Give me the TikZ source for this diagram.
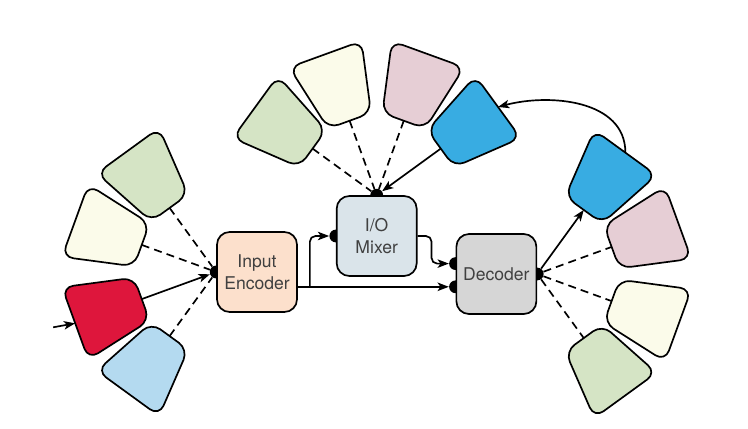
\documentclass[tikz,border=0pt]{standalone}
\usepackage{fontspec}
\setmainfont{TeX Gyre Heros}
\usetikzlibrary{shapes,positioning,arrows.meta,calc,backgrounds}

\definecolor{sage}{RGB}{213,228,197}
\definecolor{cream}{RGB}{251,251,234}
\definecolor{rose}{RGB}{230,206,213}
\definecolor{sky}{RGB}{56,172,226}
\definecolor{crimson}{RGB}{222,22,60}
\definecolor{ice}{RGB}{180,218,240}
\definecolor{peach}{RGB}{252,224,204}
\definecolor{mist}{RGB}{218,228,234}
\definecolor{ash}{RGB}{214,214,214}

% one fan piece: name, hub, direction, colour
\newcommand{\fanpiece}[4]{%
  \begin{scope}[shift={(#2)},rotate=#3]
    \draw [fill=#4,rounded corners=8pt] (1.98,-0.57) -- (3.75,-0.96) -- (3.75,0.96) -- (1.98,0.57) -- cycle ;
    \coordinate (#1-in) at (1.98,0) ;
    \coordinate (#1-out) at (3.75,0) ;
  \end{scope}}

\begin{document}
\begin{tikzpicture}[>={Stealth[length=8pt,width=6pt,inset=2pt]},
  line width=1.2pt,
  every node/.style={font=\fontsize{12.5}{16}\selectfont},
  box/.style={draw,rounded corners=9pt,minimum width=2cm,minimum height=2cm,align=center,text=black!75},
  hubdot/.style={circle,fill=black,inner sep=0pt,minimum size=3.2mm},
  link/.style={dash pattern=on 2mm off 1.3mm},
  ]
	\useasboundingbox (0,0) rectangle (18.7,10.7);
	% main blocks
	\node [box,fill=peach] (enc) at (6.425,3.9) {Input\\Encoder} ;
	\node [box,fill=mist,right=0.95cm of enc,yshift=9mm] (mix) {I/O\\Mixer} ;
	\node [box,fill=ash,right=0.95cm of mix,yshift=-9.5mm] (dec) {Decoder} ;
	% connection dots, half hidden by the blocks
	\begin{scope}[on background layer]
		\node [hubdot] (ehub) at (enc.west) {} ;
		\node [hubdot] (mhub) at (mix.north) {} ;
		\node [hubdot] (min) at (mix.west) {} ;
		\node [hubdot] (dup) at ([yshift=2.6mm]dec.west) {} ;
		\node [hubdot] (dlow) at ([yshift=-3.2mm]dec.west) {} ;
		\node [hubdot] (dhub) at (dec.east) {} ;
	\end{scope}
	% input fan
	\fanpiece{lgreen}{ehub}{126}{sage}
	\fanpiece{lcream}{ehub}{160}{cream}
	\fanpiece{lred}{ehub}{200}{crimson}
	\fanpiece{lice}{ehub}{234}{ice}
	% mixer fan
	\fanpiece{tgreen}{mhub}{144}{sage}
	\fanpiece{tcream}{mhub}{110}{cream}
	\fanpiece{trose}{mhub}{70}{rose}
	\fanpiece{tsky}{mhub}{36}{sky}
	% output fan
	\fanpiece{rsky}{dhub}{54}{sky}
	\fanpiece{rrose}{dhub}{20}{rose}
	\fanpiece{rcream}{dhub}{-20}{cream}
	\fanpiece{rgreen}{dhub}{-54}{sage}
	\coordinate (input) at ([xshift=-5.5mm,yshift=-1mm]lred-out) ;
	\coordinate (encout) at (enc.east |- dlow) ;
	\coordinate (split) at ([xshift=3mm]encout) ;

	\draw [->] (input) -- (lred-out) ;
	\draw [link] (lgreen-in) -- (ehub) ;
	\draw [link] (lcream-in) -- (ehub) ;
	\draw [->] (lred-in) -- (ehub) ;
	\draw [link] (lice-in) -- (ehub) ;

	\draw [link] (tgreen-in) -- (mhub) ;
	\draw [link] (tcream-in) -- (mhub) ;
	\draw [link] (trose-in) -- (mhub) ;
	\draw [->] (tsky-in) -- (mhub) ;

	\draw [->] (dhub) -- (rsky-in) ;
	\draw [link] (dhub) -- (rrose-in) ;
	\draw [link] (dhub) -- (rcream-in) ;
	\draw [link] (dhub) -- (rgreen-in) ;

	\draw [->] (encout) -- (dlow) ;
	\draw [->,rounded corners=4pt] (split) |- (min) ;
	\draw [->,rounded corners=4pt] (mix.east) -- ++(0.35,0) |- (dup) ;
	\draw [->] (rsky-out) to[out=90,in=15] (tsky-out) ;
\end{tikzpicture}
\end{document}
